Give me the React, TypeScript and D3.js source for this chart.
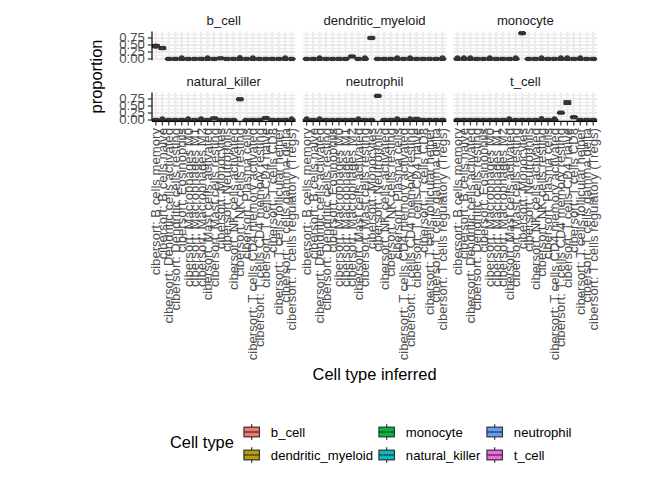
import * as d3 from "d3";

const cellTypes = [
  "cibersort: B cells memory",
  "cibersort: B cells naive",
  "cibersort: Dendritic cells activated",
  "cibersort: Dendritic cells resting",
  "cibersort: Eosinophils",
  "cibersort: Macrophages M0",
  "cibersort: Macrophages M1",
  "cibersort: Macrophages M2",
  "cibersort: Mast cells activated",
  "cibersort: Mast cells resting",
  "cibersort: Monocytes",
  "cibersort: Neutrophils",
  "cibersort: NK cells activated",
  "cibersort: NK cells resting",
  "cibersort: Plasma cells",
  "cibersort: T cells CD4 memory activated",
  "cibersort: T cells CD4 memory resting",
  "cibersort: T cells CD4 naive",
  "cibersort: T cells CD8",
  "cibersort: T cells follicular helper",
  "cibersort: T cells gamma delta",
  "cibersort: T cells regulatory (Tregs)",
];

const facetNames = ["b_cell", "dendritic_myeloid", "monocyte", "natural_killer", "neutrophil", "t_cell"];
const facetFills = ["#F8766D", "#B79F00", "#00BA38", "#00BFC4", "#619CFF", "#F564E3"];
const yTicks = [0, 0.25, 0.5, 0.75];
const yMinor = [0.125, 0.375, 0.625, 0.875];

// [lower whisker, q1, median, q3, upper whisker], one per cell type
type Box = number[] | null;

const bCellBoxes: Box[] = [
  [0.37, 0.42, 0.46, 0.5, 0.55],
  [0.33, 0.36, 0.39, 0.41, 0.44],
  [0, 0, 0.002, 0.006, 0.012],
  [0, 0, 0.003, 0.007, 0.014],
  [0, 0, 0.004, 0.01, 0.02],
  [0, 0, 0.002, 0.005, 0.01],
  [0, 0, 0.002, 0.006, 0.012],
  [0, 0, 0.003, 0.008, 0.015],
  [0, 0, 0.004, 0.01, 0.02],
  [0, 0, 0.002, 0.005, 0.01],
  [0.01, 0.018, 0.024, 0.03, 0.04],
  [0, 0, 0.002, 0.005, 0.01],
  [0, 0, 0.003, 0.006, 0.012],
  [0, 0.001, 0.005, 0.012, 0.025],
  [0, 0, 0.002, 0.006, 0.012],
  [0, 0.001, 0.004, 0.01, 0.02],
  [0, 0, 0.002, 0.005, 0.01],
  [0, 0, 0.002, 0.006, 0.012],
  [0, 0, 0.003, 0.006, 0.012],
  [0, 0, 0.002, 0.005, 0.01],
  [0, 0, 0.004, 0.01, 0.02],
  [0, 0, 0.002, 0.006, 0.012],
];
const bCellOutliers = [[4, 0.035], [8, 0.035], [13, 0.045], [15, 0.04], [20, 0.035]];

const dendriticBoxes: Box[] = [
  [0, 0, 0.002, 0.006, 0.012],
  [0, 0, 0.002, 0.005, 0.01],
  [0, 0, 0.004, 0.01, 0.02],
  [0, 0, 0.002, 0.006, 0.012],
  [0, 0, 0.002, 0.005, 0.01],
  [0, 0, 0.003, 0.006, 0.012],
  [0, 0, 0.002, 0.005, 0.01],
  [0.07, 0.08, 0.09, 0.1, 0.11],
  [0, 0, 0.002, 0.006, 0.012],
  [0, 0, 0.004, 0.01, 0.02],
  [0.7, 0.73, 0.75, 0.77, 0.8],
  [0, 0, 0.002, 0.005, 0.01],
  [0, 0, 0.002, 0.006, 0.012],
  [0, 0, 0.003, 0.006, 0.012],
  [0, 0, 0.004, 0.01, 0.02],
  [0, 0, 0.002, 0.005, 0.01],
  [0, 0, 0.004, 0.01, 0.02],
  [0, 0, 0.002, 0.006, 0.012],
  [0, 0, 0.002, 0.005, 0.01],
  [0, 0, 0.003, 0.006, 0.012],
  [0, 0, 0.002, 0.005, 0.01],
  [0, 0, 0.004, 0.01, 0.02],
];
const dendriticOutliers = [[2, 0.035], [9, 0.04], [14, 0.035], [16, 0.04], [21, 0.035]];

const monocyteBoxes: Box[] = [
  [0, 0, 0.004, 0.01, 0.02],
  [0, 0, 0.004, 0.01, 0.02],
  [0, 0, 0.004, 0.01, 0.02],
  [0, 0, 0.002, 0.006, 0.012],
  [0, 0, 0.002, 0.005, 0.01],
  [0, 0, 0.004, 0.01, 0.02],
  [0, 0, 0.002, 0.006, 0.012],
  [0, 0, 0.003, 0.006, 0.012],
  [0, 0, 0.002, 0.005, 0.01],
  [0, 0, 0.004, 0.01, 0.02],
  [0.9, 0.91, 0.92, 0.925, 0.93],
  [0, 0, 0.002, 0.006, 0.012],
  [0, 0, 0.002, 0.005, 0.01],
  [0, 0, 0.004, 0.01, 0.02],
  [0, 0, 0.002, 0.006, 0.012],
  [0, 0, 0.003, 0.006, 0.012],
  [0, 0, 0.004, 0.01, 0.02],
  [0, 0, 0.004, 0.01, 0.02],
  [0, 0, 0.002, 0.005, 0.01],
  [0, 0, 0.004, 0.01, 0.02],
  [0, 0, 0.002, 0.006, 0.012],
  [0, 0, 0.002, 0.005, 0.01],
];
const monocyteOutliers = [[0, 0.035], [1, 0.035], [2, 0.035], [5, 0.04], [9, 0.035], [13, 0.04], [16, 0.04], [17, 0.035], [19, 0.035]];

const nkBoxes: Box[] = [
  [0, 0, 0.002, 0.006, 0.012],
  [0, 0, 0.004, 0.01, 0.02],
  [0, 0, 0.002, 0.005, 0.01],
  [0, 0, 0.002, 0.006, 0.012],
  [0, 0, 0.003, 0.006, 0.012],
  [0, 0, 0.004, 0.01, 0.02],
  [0, 0, 0.002, 0.005, 0.01],
  [0, 0.005, 0.012, 0.02, 0.03],
  [0, 0, 0.002, 0.006, 0.012],
  [0.04, 0.05, 0.06, 0.07, 0.08],
  [0, 0, 0.002, 0.005, 0.01],
  [0, 0, 0.002, 0.006, 0.012],
  [0, 0, 0.003, 0.006, 0.012],
  [0.72, 0.73, 0.74, 0.75, 0.76],
  [0, 0, 0.002, 0.005, 0.01],
  [0, 0, 0.002, 0.006, 0.012],
  [0, 0, 0.003, 0.006, 0.012],
  [0.05, 0.06, 0.07, 0.08, 0.09],
  [0, 0, 0.002, 0.005, 0.01],
  [0, 0, 0.002, 0.006, 0.012],
  [0, 0, 0.003, 0.006, 0.012],
  [0, 0, 0.004, 0.01, 0.02],
];
const nkOutliers = [[1, 0.035], [5, 0.04], [7, 0.04], [21, 0.035]];

const neutrophilBoxes: Box[] = [
  [0, 0, 0.004, 0.01, 0.02],
  [0, 0, 0.002, 0.006, 0.012],
  [0, 0, 0.004, 0.01, 0.02],
  [0, 0, 0.002, 0.005, 0.01],
  [0, 0, 0.002, 0.006, 0.012],
  [0, 0, 0.003, 0.006, 0.012],
  [0, 0, 0.002, 0.005, 0.01],
  [0, 0, 0.002, 0.006, 0.012],
  [0, 0, 0.004, 0.01, 0.02],
  [0, 0, 0.002, 0.005, 0.01],
  [0, 0, 0.003, 0.006, 0.012],
  [0.84, 0.85, 0.86, 0.865, 0.87],
  [0, 0, 0.002, 0.005, 0.01],
  [0, 0, 0.002, 0.006, 0.012],
  [0, 0, 0.004, 0.01, 0.02],
  [0, 0, 0.002, 0.005, 0.01],
  [0, 0, 0.004, 0.01, 0.02],
  [0.02, 0.03, 0.04, 0.05, 0.06],
  [0, 0, 0.002, 0.006, 0.012],
  [0, 0, 0.003, 0.006, 0.012],
  [0, 0, 0.002, 0.005, 0.01],
  [0, 0, 0.002, 0.006, 0.012],
];
const neutrophilOutliers = [[0, 0.035], [2, 0.035], [8, 0.04], [14, 0.035], [16, 0.04]];

const tCellBoxes: Box[] = [
  [0, 0, 0.002, 0.006, 0.012],
  [0, 0, 0.002, 0.005, 0.01],
  [0, 0, 0.003, 0.006, 0.012],
  [0, 0, 0.002, 0.006, 0.012],
  [0, 0, 0.002, 0.005, 0.01],
  [0, 0, 0.003, 0.006, 0.012],
  [0, 0, 0.002, 0.005, 0.01],
  [0, 0, 0.002, 0.006, 0.012],
  [0, 0, 0.004, 0.01, 0.02],
  [0, 0, 0.002, 0.005, 0.01],
  [0, 0, 0.003, 0.006, 0.012],
  [0, 0, 0.002, 0.006, 0.012],
  [0, 0, 0.002, 0.005, 0.01],
  [0, 0, 0.004, 0.01, 0.02],
  [0, 0, 0.002, 0.006, 0.012],
  [0, 0, 0.004, 0.01, 0.02],
  [0.24, 0.25, 0.26, 0.265, 0.27],
  [0.55, 0.575, 0.62, 0.665, 0.69],
  [0.08, 0.09, 0.1, 0.105, 0.11],
  [0, 0, 0.002, 0.005, 0.01],
  [0, 0, 0.003, 0.006, 0.012],
  [0, 0, 0.002, 0.005, 0.01],
];
const tCellOutliers = [[8, 0.035], [13, 0.045], [15, 0.04]];

const facetBoxes = [bCellBoxes, dendriticBoxes, monocyteBoxes, nkBoxes, neutrophilBoxes, tCellBoxes];
const facetOutliers = [bCellOutliers, dendriticOutliers, monocyteOutliers, nkOutliers, neutrophilOutliers, tCellOutliers];

const FONT = "'Liberation Sans', Arial, Helvetica, sans-serif";
const W = 672;
const H = 480;
const S = 1.12; // pt -> px scale used by the original device
const small = 8.8 * 1.333 * S;
const big = 11 * 1.333 * S;
const panelLeft = 152;
const panelW = 143.5;
const gapX = 7.3;
const rowTops = [31.6, 92.6];
const panelH = 28.7;
const tickLen = 3.7 * S;
const boxStroke = "#333333";
const lw = 1.9 * S;

export default function App() {
  const allMax = d3.max(facetBoxes.flat().map((b) => (b ? b[4] : 0))) as number;
  const pad = allMax * 0.05;

  const panels = facetNames.map((name, fi) => {
    const col = fi % 3;
    const row = Math.floor(fi / 3);
    const x0 = panelLeft + col * (panelW + gapX);
    const y0 = rowTops[row];
    const x = d3.scalePoint<string>().domain(cellTypes).range([x0, x0 + panelW]).padding(0.6);
    const y = d3.scaleLinear().domain([-pad, allMax + pad]).range([y0 + panelH, y0]);
    return { name, fi, col, row, x0, y0, x, y };
  });

  const boxW = 0.9 * panels[0].x.step();

  return (
    <svg
      width={W}
      height={H}
      style={{ position: "fixed", left: 0, top: 0, background: "#fff" }}
      fontFamily={FONT}
    >
      {panels.map((p) => (
        <g key={p.name}>
          {/* strip */}
          <text x={p.x0 + panelW / 2} y={p.y0 - 11} textAnchor="middle" dominantBaseline="central" fontSize={small} fill="#1A1A1A">
            {p.name}
          </text>
          {/* grid */}
          {yMinor.filter((v) => p.y(v) >= p.y0).map((v) => (
            <line key={"mi" + v} x1={p.x0} x2={p.x0 + panelW} y1={p.y(v)} y2={p.y(v)} stroke="#EBEBEB" strokeWidth={lw / 2} />
          ))}
          {yTicks.map((v) => (
            <line key={"ma" + v} x1={p.x0} x2={p.x0 + panelW} y1={p.y(v)} y2={p.y(v)} stroke="#EBEBEB" strokeWidth={lw} />
          ))}
          {cellTypes.map((c) => (
            <line key={"v" + c} x1={p.x(c)} x2={p.x(c)} y1={p.y0} y2={p.y0 + panelH} stroke="#EBEBEB" strokeWidth={lw} />
          ))}
          {/* boxplots */}
          {facetBoxes[p.fi].map((b, i) => {
            if (!b) return null;
            const cx = p.x(cellTypes[i]) as number;
            const [lo, q1, med, q3, hi] = b;
            return (
              <g key={"b" + i}>
                <line x1={cx} x2={cx} y1={p.y(lo)} y2={p.y(q1)} stroke={boxStroke} strokeWidth={lw} />
                <line x1={cx} x2={cx} y1={p.y(q3)} y2={p.y(hi)} stroke={boxStroke} strokeWidth={lw} />
                <rect
                  x={cx - boxW / 2}
                  y={p.y(q3)}
                  width={boxW}
                  height={Math.max(0, p.y(q1) - p.y(q3))}
                  fill={facetFills[p.fi]}
                  stroke={boxStroke}
                  strokeWidth={lw}
                />
                <line x1={cx - boxW / 2} x2={cx + boxW / 2} y1={p.y(med)} y2={p.y(med)} stroke={boxStroke} strokeWidth={lw * 2} />
              </g>
            );
          })}
          {facetOutliers[p.fi].map(([i, v], k) => (
            <circle key={"o" + k} cx={p.x(cellTypes[i])} cy={p.y(v)} r={2.7} fill={boxStroke} />
          ))}
          {/* left axis */}
          {p.col === 0 && (
            <g>
              <line x1={p.x0} x2={p.x0} y1={p.y0} y2={p.y0 + panelH} stroke="#000" strokeWidth={1.2} />
              {yTicks.map((v) => (
                <g key={"yt" + v}>
                  <line x1={p.x0 - tickLen} x2={p.x0} y1={p.y(v)} y2={p.y(v)} stroke="#333" strokeWidth={1.2} />
                  <text x={p.x0 - tickLen - 3} y={p.y(v)} textAnchor="end" dominantBaseline="central" fontSize={small} fill="#4D4D4D">
                    {d3.format(".2f")(v)}
                  </text>
                </g>
              ))}
            </g>
          )}
          {/* bottom axis */}
          {p.row === 1 && (
            <g>
              <line x1={p.x0} x2={p.x0 + panelW} y1={p.y0 + panelH} y2={p.y0 + panelH} stroke="#000" strokeWidth={1.2} />
              {cellTypes.map((c) => (
                <g key={"xt" + c}>
                  <line x1={p.x(c)} x2={p.x(c)} y1={p.y0 + panelH} y2={p.y0 + panelH + tickLen} stroke="#333" strokeWidth={1.2} />
                  <text
                    transform={`translate(${p.x(c)},${p.y0 + panelH + tickLen + 2.6}) rotate(-90)`}
                    textAnchor="end"
                    dominantBaseline="central"
                    fontSize={small}
                    fill="#4D4D4D"
                  >
                    {c}
                  </text>
                </g>
              ))}
            </g>
          )}
        </g>
      ))}

      {/* axis titles */}
      <text x={panelLeft + (3 * panelW + 2 * gapX) / 2} y={380} textAnchor="middle" fontSize={big} fill="#000">
        Cell type inferred
      </text>
      <text
        transform={`translate(102,${(rowTops[0] + rowTops[1] + panelH) / 2}) rotate(-90)`}
        textAnchor="middle"
        fontSize={big}
        fill="#000"
      >
        proportion
      </text>

      {/* legend */}
      <text x={170} y={442} dominantBaseline="central" fontSize={big} fill="#000">
        Cell type
      </text>
      {facetNames.map((name, i) => {
        const colX = [242, 377, 485][Math.floor(i / 2)];
        const cy = [432, 455][i % 2];
        const k = 17.28 * S;
        const kx = colX;
        const ky = cy - k / 2;
        return (
          <g key={"lg" + name}>
            <line x1={kx + k / 2} x2={kx + k / 2} y1={ky + k * 0.1} y2={ky + k * 0.9} stroke={boxStroke} strokeWidth={1.2} />
            <rect x={kx + k * 0.1} y={ky + k * 0.25} width={k * 0.8} height={k * 0.5} fill={facetFills[i]} stroke={boxStroke} strokeWidth={1.2} />
            <line x1={kx + k * 0.1} x2={kx + k * 0.9} y1={cy} y2={cy} stroke={boxStroke} strokeWidth={1.2} />
            <text x={kx + k + 9.5} y={cy} dominantBaseline="central" fontSize={small} fill="#000">
              {name}
            </text>
          </g>
        );
      })}
    </svg>
  );
}
